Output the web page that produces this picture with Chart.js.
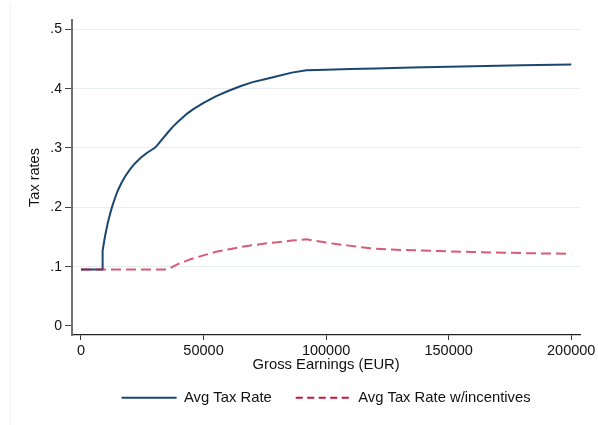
<!DOCTYPE html>
<html><head><meta charset="utf-8">
<script src="https://cdn.jsdelivr.net/npm/chart.js@4.4.1/dist/chart.umd.min.js"></script>
<style>
html,body{margin:0;padding:0;background:#fff;overflow:hidden}
#wrap{position:relative;width:598px;height:425px}
#frame{position:absolute;left:10px;top:4px;width:1px;height:421px;background:#eef2f4}
canvas{position:absolute;left:0;top:0}
</style></head>
<body><div id="wrap"><div id="frame"></div><canvas id="c" width="598" height="425"></canvas></div>
<script>
// ---- data ----
const avgRateEarnings = [0, 8800, 8830, 9000, 9500, 10000, 11000, 12000, 13000, 14000, 15000, 16500, 18000, 20000, 22000, 24500, 27000, 30000, 31000, 33000, 35000, 37500, 40000, 43000, 46000, 50000, 55000, 60000, 65000, 70000, 75000, 80000, 86000, 92000, 100000, 110000, 120000, 135000, 150000, 165000, 180000, 200000];
const avgTaxRate = [0.095, 0.095, 0.127, 0.131, 0.144, 0.155, 0.175, 0.191, 0.205, 0.217, 0.228, 0.241, 0.252, 0.264, 0.274, 0.284, 0.292, 0.300, 0.304, 0.314, 0.324, 0.336, 0.346, 0.357, 0.366, 0.376, 0.387, 0.396, 0.404, 0.411, 0.416, 0.421, 0.427, 0.431, 0.4318, 0.433, 0.4341, 0.4355, 0.437, 0.4383, 0.4393, 0.4405];
const incentiveEarnings = [0, 35300, 37500, 40000, 42500, 45000, 50000, 55000, 60000, 65000, 70000, 75000, 80000, 86000, 92000, 98000, 104000, 110000, 118000, 125000, 132500, 146000, 160000, 173000, 187000, 200000];
const avgTaxRateIncentives = [0.095, 0.095, 0.100, 0.105, 0.109, 0.113, 0.119, 0.125, 0.129, 0.133, 0.136, 0.139, 0.141, 0.144, 0.146, 0.142, 0.138, 0.135, 0.131, 0.129, 0.128, 0.1263, 0.1246, 0.1234, 0.1224, 0.1216];
const seriesNames = ['Avg Tax Rate', 'Avg Tax Rate w/incentives'];
const xTicks = [0, 50000, 100000, 150000, 200000];
const yTicks = [0, 0.1, 0.2, 0.3, 0.4, 0.5];
const yTickLabels = ['0', '.1', '.2', '.3', '.4', '.5'];
const xTitle = 'Gross Earnings (EUR)';
const yTitle = 'Tax rates';

// ---- styles ----
const FONT = '"Liberation Sans", Arial, sans-serif';
const BLUE = 'rgb(26,71,111)';
const RED = 'rgba(200,20,60,0.7)';
const RED_LEGEND = 'rgb(200,20,60)';

const toPts = (xs, ys) => xs.map((x, i) => ({x: x, y: ys[i]}));

Chart.defaults.font.family = FONT;
Chart.defaults.color = '#111';

new Chart(document.getElementById('c'), {
  type: 'line',
  data: {
    datasets: [
      {label: seriesNames[0], data: toPts(avgRateEarnings, avgTaxRate), borderColor: BLUE, backgroundColor: BLUE,
       borderWidth: 2, pointRadius: 0, tension: 0, borderJoinStyle: 'round', order: 1},
      {label: seriesNames[1], data: toPts(incentiveEarnings, avgTaxRateIncentives), borderColor: RED, backgroundColor: RED,
       borderWidth: 2, borderDash: [10, 5], pointRadius: 0, tension: 0, order: 0}
    ]
  },
  options: {
    responsive: false,
    animation: false,
    devicePixelRatio: 1,
    layout: {padding: {left: 0, right: 16, top: 20, bottom: 9.9}},
    scales: {
      x: {
        type: 'linear', min: -3660, max: 203660,
        afterBuildTicks: (s) => { s.ticks = xTicks.map(v => ({value: v})); },
        afterFit: (s) => { s.height = 31.3; },
        ticks: {font: {size: 14.5}, color: '#111', padding: 2.3, maxRotation: 0,
                callback: (v) => String(v)},
        grid: {drawOnChartArea: false, drawTicks: true, tickLength: 5, tickColor: '#333', tickWidth: 1},
        border: {display: true, color: '#222', width: 1.3},
        title: {display: true, text: xTitle, font: {size: 14.8}, color: '#111', padding: {top: 0, bottom: -7.28}}
      },
      y: {
        type: 'linear', min: -0.0152, max: 0.5157,
        afterBuildTicks: (s) => { s.ticks = yTicks.map(v => ({value: v})); },
        afterFit: (s) => { s.width = 72; },
        ticks: {font: {size: 14}, color: '#111', padding: 3,
                callback: (v, i) => yTickLabels[i]},
        grid: {color: (ctx) => (ctx.tick && ctx.tick.value === 0) ? 'rgba(0,0,0,0)' : '#e9eff1',
               lineWidth: 1, drawTicks: true, tickLength: 7, tickColor: '#444', tickWidth: 1},
        border: {display: true, color: '#707070', width: 2},
        title: {display: true, text: yTitle, font: {size: 14.5}, color: '#111', padding: {top: 26.3, bottom: 0}}
      }
    },
    plugins: {
      tooltip: {enabled: false},
      legend: {
        position: 'bottom',
        fullSize: false,
        labels: {
          font: {size: 14.8}, color: '#111', padding: 24,
          usePointStyle: true, pointStyle: 'line', pointStyleWidth: 55,
          sort: (a, b) => a.datasetIndex - b.datasetIndex,
          generateLabels: (chart) => {
            const items = Chart.defaults.plugins.legend.labels.generateLabels(chart);
            items.forEach(it => {
              it.pointStyle = 'line';
              it.lineWidth = 2;
              if (it.datasetIndex === 1) { it.strokeStyle = RED_LEGEND; it.lineDash = [7, 4.5]; }
              else { it.strokeStyle = BLUE; it.lineDash = []; }
            });
            return items;
          }
        }
      }
    }
  }
});
</script>
</body></html>
